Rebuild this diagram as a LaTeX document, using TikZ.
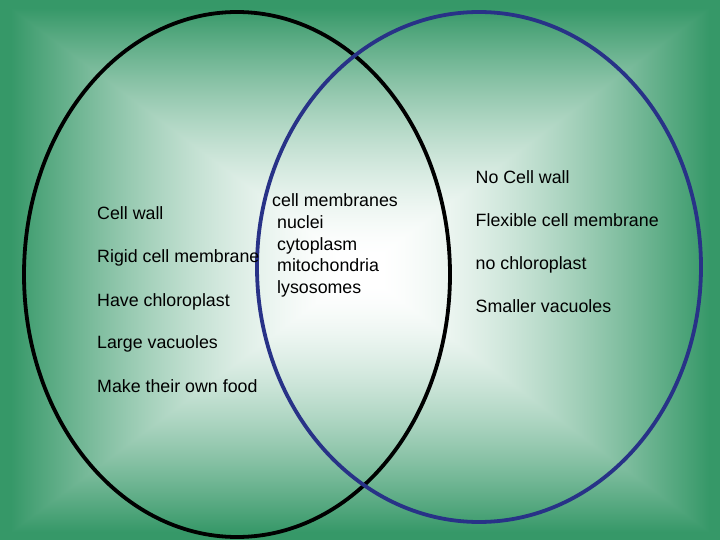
\documentclass[tikz,border=0pt]{standalone}
\usepackage{fontspec}
\setmainfont{Liberation Sans}
\pgfdeclarefunctionalshading{rectgrad}{\pgfpoint{0bp}{0bp}}{\pgfpoint{100bp}{100bp}}{}{
50 sub abs 25 div
exch 50 sub abs 25 div
2 copy sub abs 3 1 roll add add 2 div
0.05 sub 0.92 div
dup abs add 2 div
dup 1 sub abs neg exch 1 add add 2 div
dup sqrt mul
dup 0.788 mul 1 exch sub
exch dup 0.404 mul 1 exch sub
exch 0.592 mul 1 exch sub
}
\definecolor{vennblue}{RGB}{40,50,135}
\tikzset{
  txt/.style={anchor=base west, inner sep=0pt, font=\fontsize{17.8}{21.6}\selectfont},
  setline/.style={line width=3.8pt}
}
\begin{document}
\begin{tikzpicture}[x=1pt,y=-1pt]
\useasboundingbox (0,0) rectangle (720,540);
\shade[shading=rectgrad] (0,0) rectangle (720,540);
\draw[setline, black] (237,274.5) ellipse [x radius=213pt, y radius=262.5pt];
\draw[setline, vennblue] (479,267) ellipse [x radius=222pt, y radius=255pt];
% left
\node[txt] (l1) at (97,219) {Cell wall};
\node[txt] (l2) at (97,262) {Rigid cell membrane};
\node[txt] (l3) at (97,306) {Have chloroplast};
\node[txt] (l4) at (97,348.5) {Large vacuoles};
\node[txt] (l5) at (97,392) {Make their own food};
% middle
\node[txt] (m1) at (272,206.7) {cell membranes};
\node[txt] (m2) at (277,228.3) {nuclei};
\node[txt] (m3) at (277,250) {cytoplasm};
\node[txt] (m4) at (277,271.7) {mitochondria};
\node[txt] (m5) at (277,293.3) {lysosomes};
% right
\node[txt] (r1) at (475.5,183.3) {No Cell wall};
\node[txt] (r2) at (475.5,226) {Flexible cell membrane};
\node[txt] (r3) at (475.5,269.3) {no chloroplast};
\node[txt] (r4) at (475.5,312.3) {Smaller vacuoles};
\end{tikzpicture}
\end{document}
